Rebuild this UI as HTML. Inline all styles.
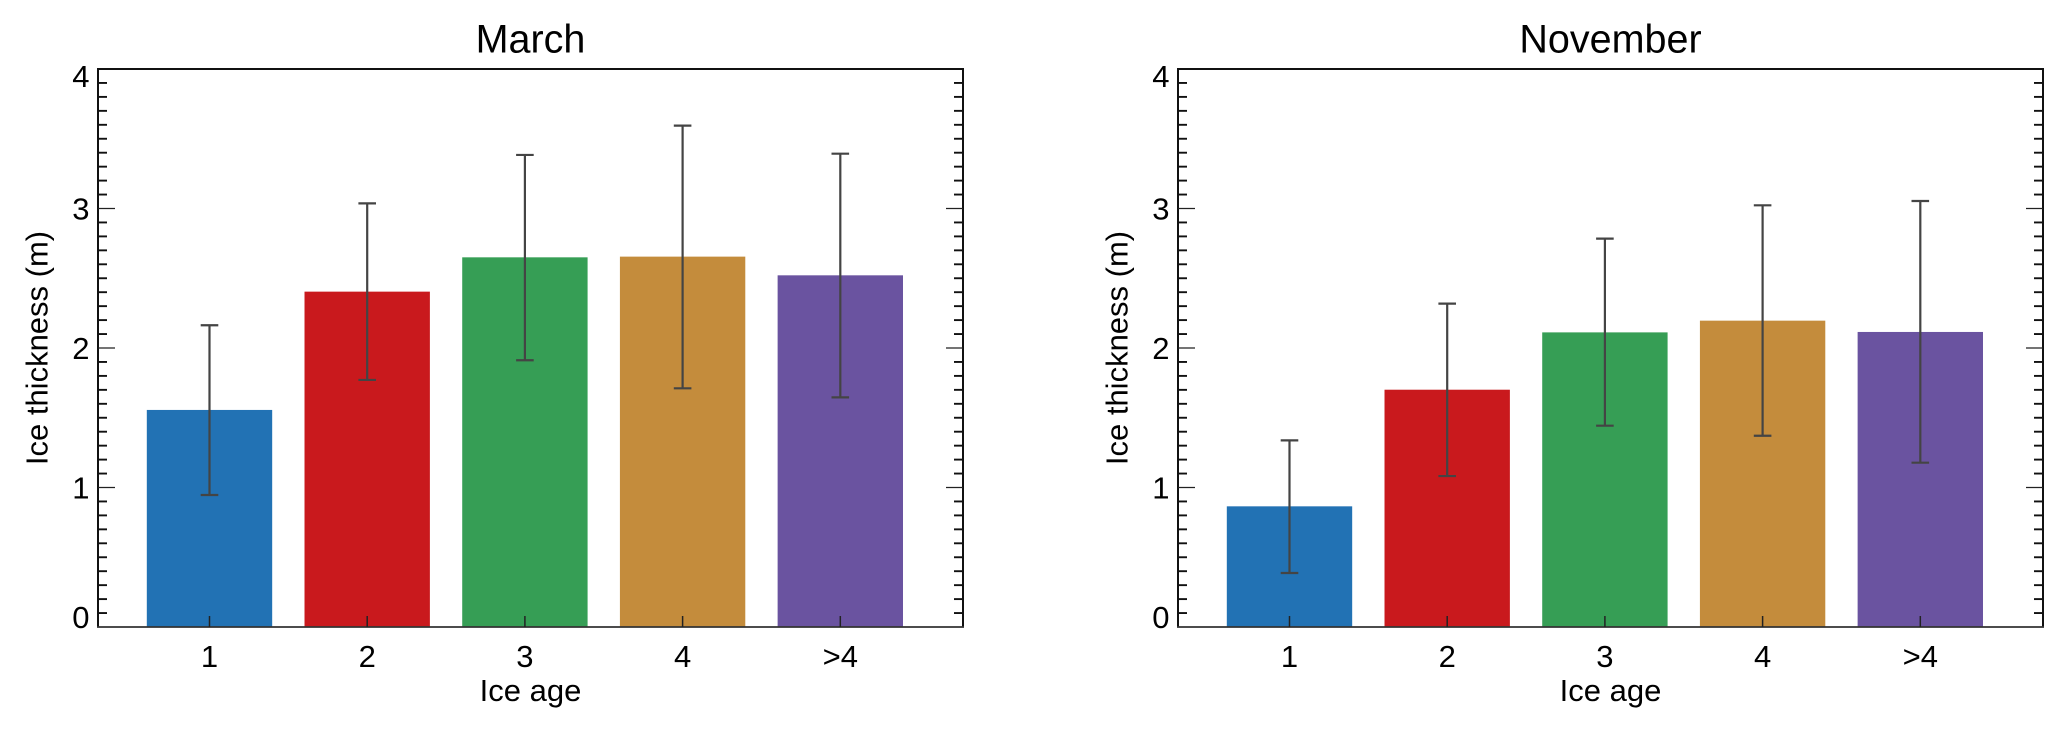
<!DOCTYPE html>
<html lang="en">
<head>
<meta charset="utf-8">
<title>Ice thickness by ice age</title>
<style>
  html, body { margin: 0; padding: 0; background: #fff; width: 2068px; height: 733px; overflow: hidden; }
  svg { display: block; }
  text { font-family: "Liberation Sans", Arial, sans-serif; fill: #000; }
</style>
</head>
<body>
<svg id="chart" xmlns="http://www.w3.org/2000/svg" width="2068" height="733" viewBox="0 0 2068 733"></svg>
<script>
const categories = ['1', '2', '3', '4', '>4'];
const yTickLabels = ['0', '1', '2', '3', '4'];
const barColors = ['#2272b4', '#c9191d', '#369e55', '#c48c3c', '#6a53a0'];

const marchMeans = [1.556, 2.404, 2.65, 2.655, 2.521];
const marchLow = [0.946, 1.771, 1.912, 1.711, 1.646];
const marchHigh = [2.163, 3.037, 3.384, 3.594, 3.393];

const novemberMeans = [0.865, 1.701, 2.112, 2.196, 2.115];
const novemberLow = [0.387, 1.082, 1.443, 1.371, 1.178];
const novemberHigh = [1.338, 2.318, 2.784, 3.023, 3.054];

const yMin = 0, yMax = 4, minorStep = 0.1;
const xMin = 0.293, xMax = 5.778, barWidth = 0.795, capHalf = 8.8;
const plotTop = 69, plotBottom = 627, plotWidth = 865;

const SVG_NS = 'http://www.w3.org/2000/svg';
const chart = document.getElementById('chart');

function make(parent, tag, attrs, text) {
  const el = document.createElementNS(SVG_NS, tag);
  for (const k in attrs) el.setAttribute(k, attrs[k]);
  if (text !== undefined) el.textContent = text;
  parent.appendChild(el);
  return el;
}

function drawPanel(key, title, left, means, low, high) {
  const right = left + plotWidth;
  const cx = (left + right) / 2;
  const xScale = v => left + (v - xMin) / (xMax - xMin) * plotWidth;
  const yScale = v => plotBottom - (v - yMin) / (yMax - yMin) * (plotBottom - plotTop);
  const unit = xScale(1) - xScale(0);

  const g = make(chart, 'g', {});
  
  

  const titleEl = make(g, 'text', { x: cx, y: 52.5, 'text-anchor': 'middle', 'font-size': 39.5 }, title);
  
  

  categories.forEach((cat, i) => {
    const c = xScale(i + 1);
    const bar = make(g, 'rect', {
      x: c - unit * barWidth / 2, y: yScale(means[i]),
      width: unit * barWidth, height: yScale(0) - yScale(means[i]),
      fill: barColors[i]
    });
    
    
  });

  categories.forEach((cat, i) => {
    const c = xScale(i + 1);
    const err = make(g, 'path', {
      d: 'M' + c + ' ' + yScale(low[i]) + 'V' + yScale(high[i]) +
         'M' + (c - capHalf) + ' ' + yScale(high[i]) + 'H' + (c + capHalf) +
         'M' + (c - capHalf) + ' ' + yScale(low[i]) + 'H' + (c + capHalf),
      stroke: '#444', 'stroke-width': 2.2, fill: 'none'
    });
    
    
  });

  const frame = make(g, 'path', {
    d: 'M' + left + ' ' + plotBottom + 'V' + plotTop + 'H' + right + 'V' + plotBottom,
    stroke: '#111', 'stroke-width': 2, fill: 'none'
  });
  
  

  const xAxis = make(g, 'line', { x1: left - 1, x2: right + 1, y1: plotBottom, y2: plotBottom, stroke: '#333', 'stroke-width': 1.7 });
  
  

  const steps = Math.round((yMax - yMin) / minorStep);
  for (let s = 1; s < steps; s++) {
    const v = yMin + s * minorStep;
    const major = s % 10 === 0;
    const len = major ? 17 : 9;
    const y = yScale(v);
    const tickL = make(g, 'line', { x1: left, x2: left + len, y1: y, y2: y, stroke: major ? '#222' : '#111', 'stroke-width': major ? 1.3 : 1.9 });
    
    
    const tickR = make(g, 'line', { x1: right, x2: right - len, y1: y, y2: y, stroke: major ? '#222' : '#111', 'stroke-width': major ? 1.3 : 1.9 });
    
    
  }

  yTickLabels.forEach((lab, i) => {
    const v = yMin + i;
    const offset = i === 0 ? 1 : (i === yTickLabels.length - 1 ? 18 : 11);
    const t = make(g, 'text', { x: left - 8.5, y: yScale(v) + offset, 'text-anchor': 'end', 'font-size': 31 }, lab);
    
    
  });

  categories.forEach((cat, i) => {
    const c = xScale(i + 1);
    const tick = make(g, 'line', { x1: c, x2: c, y1: plotBottom, y2: plotBottom - 11, stroke: '#222', 'stroke-width': 1.5 });
    
    
    const t = make(g, 'text', { x: c, y: 667, 'text-anchor': 'middle', 'font-size': 31 }, cat);
    
    
  });

  const xTitle = make(g, 'text', { x: cx, y: 701, 'text-anchor': 'middle', 'font-size': 31 }, 'Ice age');
  
  

  const ty = (plotTop + plotBottom) / 2;
  const tx = left - 50.5;
  const yTitle = make(g, 'text', { x: tx, y: ty, 'text-anchor': 'middle', 'font-size': 31, transform: 'rotate(-90 ' + tx + ' ' + ty + ')' }, 'Ice thickness (m)');
  
  
}

drawPanel('march', 'March', 98, marchMeans, marchLow, marchHigh);
drawPanel('november', 'November', 1178, novemberMeans, novemberLow, novemberHigh);
</script>
</body>
</html>
